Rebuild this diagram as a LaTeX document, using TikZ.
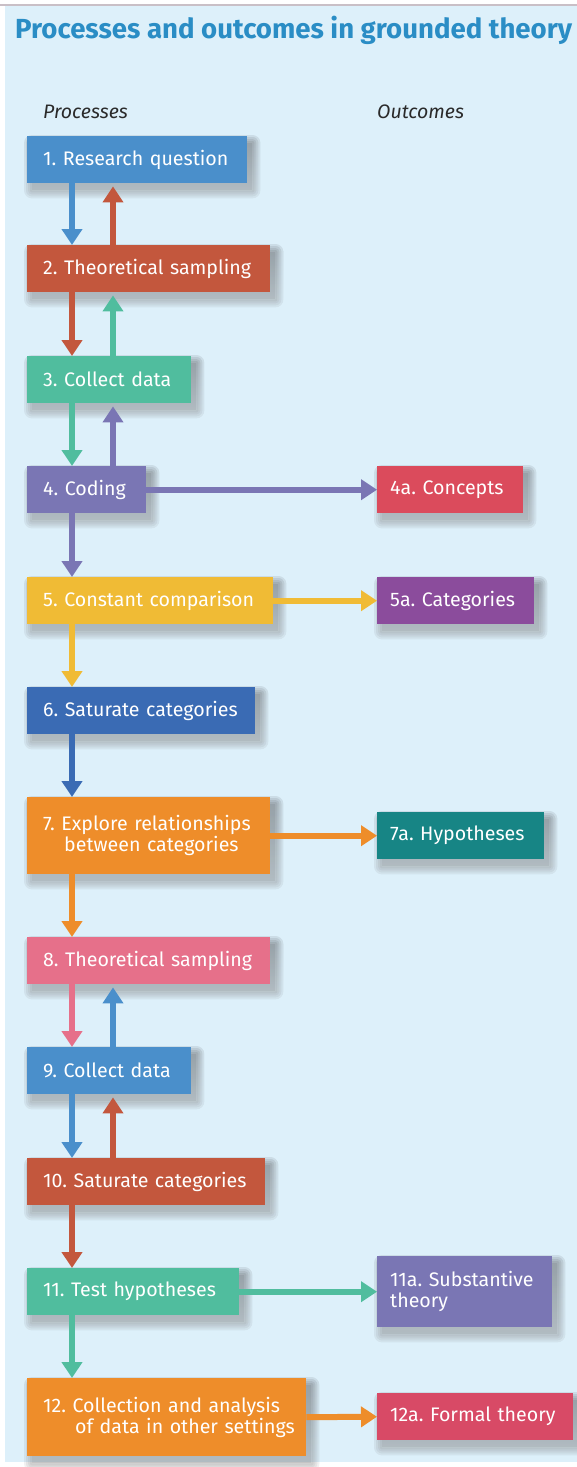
\documentclass[tikz,border=0pt]{standalone}
\usepackage{fontspec}
\setmainfont{Fira Sans}
\usetikzlibrary{arrows.meta,backgrounds}
\frenchspacing

\definecolor{pagebg}{HTML}{DDF0FA}
\definecolor{rule}{HTML}{C9BFC6}
\definecolor{shade}{HTML}{3A4A5E}
\definecolor{titleblue}{HTML}{2A8DC5}
\definecolor{headgray}{HTML}{2A2A2A}
\definecolor{cblue}{HTML}{4A8FCB}
\definecolor{crust}{HTML}{C3573D}
\definecolor{cteal}{HTML}{50BD9E}
\definecolor{cviolet}{HTML}{7A76B4}
\definecolor{cred}{HTML}{DB4B5C}
\definecolor{cyellow}{HTML}{F0BB35}
\definecolor{cplum}{HTML}{8B4C9C}
\definecolor{cnavy}{HTML}{3A6BB4}
\definecolor{corange}{HTML}{EE8D2A}
\definecolor{cpetrol}{HTML}{178585}
\definecolor{cpink}{HTML}{E6708A}
\definecolor{crose}{HTML}{D84A66}

\begin{document}
\begin{tikzpicture}[x=1pt,y=-1pt,
  boxbase/.style={anchor=north west, fill=#1, text=white,
    font=\fontsize{19.6}{21}\selectfont, inner ysep=0pt, align=left,
    minimum height=47pt},
  pbox/.style={boxbase=#1, inner xsep=16pt},
  obox/.style={boxbase=#1, inner xsep=13pt},
  flow/.style={draw=#1, line width=6pt,
    -{Triangle[width=20pt,length=16pt]}},
  heading/.style={anchor=west, inner sep=0pt, text=headgray,
    font=\itshape\fontsize{19.5}{22}\selectfont}
]
\useasboundingbox (0,0) rectangle (577,1467);

% title and column headings
\node[anchor=west, inner sep=0pt, text=titleblue,
  font=\bfseries\fontsize{27.6}{32}\selectfont] (title) at (15,30)
  {Processes and outcomes in grounded theory};
\node[heading] (hproc) at (43,112) {Processes};
\node[heading] (hout) at (377,112) {Outcomes};

% process column
\node[pbox=cblue,   text width=188pt] (b1)  at (27,136)  {\mbox{1. Research question}};
\node[pbox=crust,   text width=211pt] (b2)  at (27,245)  {\mbox{2. Theoretical sampling}};
\node[pbox=cteal,   text width=132pt] (b3)  at (27,356)  {\mbox{3. Collect data}};
\node[pbox=cviolet, text width=87pt]  (b4)  at (27,466)  {\mbox{4. Coding}};
\node[pbox=cyellow, text width=214pt] (b5)  at (27,577)  {\mbox{5. Constant comparison}};
\node[pbox=cnavy,   text width=196pt] (b6)  at (27,687)  {\mbox{6. Saturate categories}};
\node[pbox=corange, text width=211pt, minimum height=77pt] (b7) at (27,797)
  {\mbox{7. Explore relationships}\\\hspace*{21pt}\mbox{between categories}};
\node[pbox=cpink,   text width=211pt] (b8)  at (27,937)  {\mbox{8. Theoretical sampling}};
\node[pbox=cblue,   text width=132pt] (b9)  at (27,1047) {\mbox{9. Collect data}};
\node[pbox=crust,   text width=206pt] (b10) at (27,1158) {\mbox{10. Saturate categories}};
\node[pbox=cteal,   text width=180pt] (b11) at (27,1268) {\mbox{11. Test hypotheses}};
\node[pbox=corange, text width=247pt, minimum height=78pt] (b12) at (27,1378)
  {\mbox{12. Collection and analysis}\\\hspace*{32pt}\mbox{of data in other settings}};

% outcome column
\node[obox=cred,    text width=120pt] (o4)  at (377,466)  {\mbox{4a. Concepts}};
\node[obox=cplum,   text width=131pt] (o5)  at (377,577)  {\mbox{5a. Categories}};
\node[obox=cpetrol, text width=141pt] (o7)  at (377,812)  {\mbox{7a. Hypotheses}};
\node[obox=cviolet, text width=149pt, minimum height=71pt] (o11) at (377,1256)
  {\mbox{11a. Substantive}\\theory};
\node[obox=crose,   text width=170pt] (o12) at (377,1393) {\mbox{12a. Formal theory}};

% page, panel and soft shadows behind the boxes
\begin{pgfonlayer}{background}
  \fill[white] (0,0) rectangle (577,1467);
  \fill[pagebg] (5,6) rectangle (577,1462);
  \draw[rule, line width=1.5pt] (0,5) -- (577,5);
  \foreach \n in {b1,b2,b3,b4,b5,b6,b7,b8,b9,b10,b11,b12,o4,o5,o7,o11,o12}
    \foreach \r in {8,6,4,2,0}
      \fill[shade, opacity=0.055, rounded corners=\r pt]
        ([shift={(5-\r,7-\r)}]\n.north west) rectangle
        ([shift={(5+\r,7+\r)}]\n.south east);
\end{pgfonlayer}

% downward steps and feedback loops
\draw[flow=cblue]   ([xshift=45pt]b1.south west) -- ([xshift=45pt]b2.north west);
\draw[flow=crust]   ([xshift=86pt]b2.north west) -- ([xshift=86pt,yshift=-3pt]b1.south west);
\draw[flow=crust]   ([xshift=45pt]b2.south west) -- ([xshift=45pt]b3.north west);
\draw[flow=cteal]   ([xshift=86pt]b3.north west) -- ([xshift=86pt,yshift=-3pt]b2.south west);
\draw[flow=cteal]   ([xshift=45pt]b3.south west) -- ([xshift=45pt]b4.north west);
\draw[flow=cviolet] ([xshift=86pt]b4.north west) -- ([xshift=86pt,yshift=-3pt]b3.south west);
\draw[flow=cviolet] ([xshift=45pt]b4.south west) -- ([xshift=45pt]b5.north west);
\draw[flow=cyellow] ([xshift=45pt]b5.south west) -- ([xshift=45pt]b6.north west);
\draw[flow=cnavy]   ([xshift=45pt]b6.south west) -- ([xshift=45pt]b7.north west);
\draw[flow=corange] ([xshift=45pt]b7.south west) -- ([xshift=45pt]b8.north west);
\draw[flow=cpink]   ([xshift=45pt]b8.south west) -- ([xshift=45pt]b9.north west);
\draw[flow=cblue]   ([xshift=86pt]b9.north west) -- ([xshift=86pt,yshift=-3pt]b8.south west);
\draw[flow=cblue]   ([xshift=45pt]b9.south west) -- ([xshift=45pt]b10.north west);
\draw[flow=crust]   ([xshift=86pt]b10.north west) -- ([xshift=86pt,yshift=-3pt]b9.south west);
\draw[flow=crust]   ([xshift=45pt]b10.south west) -- ([xshift=45pt]b11.north west);
\draw[flow=cteal]   ([xshift=45pt]b11.south west) -- ([xshift=45pt]b12.north west);

% processes to outcomes
\draw[flow=cviolet] (b4.east)  -- (o4.west);
\draw[flow=cyellow] (b5.east)  -- (o5.west);
\draw[flow=corange] (b7.east)  -- (o7.west);
\draw[flow=cteal]   (b11.east) -- (o11.west);
\draw[flow=corange] (b12.east) -- (o12.west);
\end{tikzpicture}
\end{document}
